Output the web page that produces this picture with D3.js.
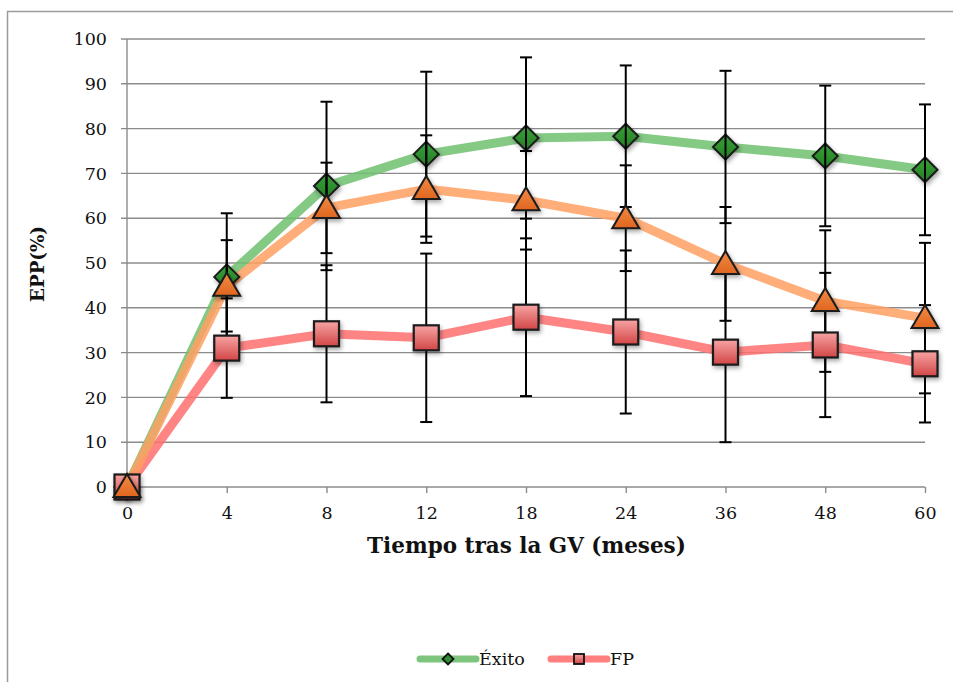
<!DOCTYPE html>
<html>
<head>
<meta charset="utf-8">
<script src="https://cdn.jsdelivr.net/npm/d3@7"></script>
<style>
  html, body { margin: 0; padding: 0; background: #fff; }
  svg { display: block; }
</style>
</head>
<body>
<svg id="chart" width="953" height="682"></svg>
<script>
// ---- data ----
const categories = ["0", "4", "8", "12", "18", "24", "36", "48", "60"];
const yTicks = [0, 10, 20, 30, 40, 50, 60, 70, 80, 90, 100];

const exito    = [0, 46.9, 67.2, 74.3, 77.9, 78.3, 75.9, 73.9, 70.8];
const exitoErr = [0, 14.2, 18.8, 18.4, 18.0, 15.8, 17.0, 15.7, 14.6];

const tercera    = [0, 44.9, 62.3, 66.5, 64.0, 60.0, 49.8, 41.5, 37.7];
const terceraErr = [0, 10.2, 10.1, 12.0, 11.0, 11.8, 12.7, 15.8, 16.8];

const fp    = [0, 31.0, 34.2, 33.3, 37.9, 34.6, 30.1, 31.7, 27.5];
const fpErr = [0, 11.1, 15.3, 18.8, 17.6, 18.2, 20.1, 16.1, 13.1];

const legendNames = ["Éxito", "FP"];
const xTitle = "Tiempo tras la GV (meses)";
const yTitle = "EPP(%)";

// ---- setup ----
const svg = d3.select("#chart");
const W = 953, H = 682;
const plot = { left: 127, right: 925, top: 39, bottom: 487 };

const x = d3.scalePoint().domain(categories).range([plot.left, plot.right]);
const y = d3.scaleLinear().domain([0, 100]).range([plot.bottom, plot.top]);

const defs = svg.append("defs");
const shadow = defs.append("filter").attr("id", "shadow")
  .attr("x", "-50%").attr("y", "-50%").attr("width", "200%").attr("height", "200%");
shadow.append("feDropShadow").attr("dx", 1.5).attr("dy", 2.5).attr("stdDeviation", 2)
  .attr("flood-color", "#000").attr("flood-opacity", 0.35);

const gSq = defs.append("linearGradient").attr("id", "gradSq").attr("x1", 0).attr("y1", 0).attr("x2", 0).attr("y2", 1);
gSq.append("stop").attr("offset", "0%").attr("stop-color", "#f7a4a4");
gSq.append("stop").attr("offset", "100%").attr("stop-color", "#d24646");
const gTri = defs.append("linearGradient").attr("id", "gradTri").attr("x1", 0).attr("y1", 0).attr("x2", 0).attr("y2", 1);
gTri.append("stop").attr("offset", "0%").attr("stop-color", "#f08a45");
gTri.append("stop").attr("offset", "100%").attr("stop-color", "#e0661f");
const gDia = defs.append("linearGradient").attr("id", "gradDia").attr("x1", 0).attr("y1", 0).attr("x2", 0).attr("y2", 1);
gDia.append("stop").attr("offset", "0%").attr("stop-color", "#38a038");
gDia.append("stop").attr("offset", "100%").attr("stop-color", "#257f25");

// outer chart border (only left/top visible)
svg.append("path")
  .attr("d", `M7.5,${H + 5} L7.5,11.5 L${W + 5},11.5`)
  .attr("fill", "none").attr("stroke", "#9a9a9a").attr("stroke-width", 1.5);

// gridlines
const grid = svg.append("g");
grid.selectAll("line").data(yTicks).join("line")
  .attr("x1", plot.left - 6).attr("x2", plot.right)
  .attr("y1", d => y(d)).attr("y2", d => y(d))
  .attr("stroke", "#8c8c8c").attr("stroke-width", 1.4);

// y axis line
svg.append("line")
  .attr("x1", plot.left).attr("x2", plot.left)
  .attr("y1", plot.top).attr("y2", plot.bottom)
  .attr("stroke", "#8c8c8c").attr("stroke-width", 1.4);

// y tick labels
const yAxis = d3.axisLeft(y).tickValues(yTicks).tickSize(0).tickPadding(20);
const gy = svg.append("g").attr("transform", `translate(${plot.left},0)`).call(yAxis);
gy.select(".domain").remove();
gy.selectAll("text").attr("font-family", "DejaVu Serif").attr("font-size", 17.5).attr("fill", "#111");

// x axis
const xAxis = d3.axisBottom(x).tickSize(6).tickPadding(14);
const gx = svg.append("g").attr("transform", `translate(0,${plot.bottom})`).call(xAxis);
gx.select(".domain").remove();
gx.selectAll(".tick line").attr("stroke", "#8c8c8c").attr("stroke-width", 1.4);
gx.selectAll("text").attr("font-family", "DejaVu Serif").attr("font-size", 17.5).attr("fill", "#111");

// titles, fitted to reference widths
function fitText(sel, target) {
  const len = sel.node().getComputedTextLength();
  const fs = parseFloat(sel.attr("font-size"));
  sel.attr("font-size", fs * target / len);
}
const xt = svg.append("text").text(xTitle)
  .attr("x", 526.5).attr("y", 553).attr("text-anchor", "middle")
  .attr("font-family", "DejaVu Serif").attr("font-weight", "bold").attr("font-size", 20).attr("fill", "#111");
fitText(xt, 319);
const yt = svg.append("text").text(yTitle)
  .attr("transform", "translate(44,264) rotate(-90)").attr("text-anchor", "middle")
  .attr("font-family", "DejaVu Serif").attr("font-weight", "bold").attr("font-size", 17).attr("fill", "#111");
fitText(yt, 76);

// ---- series ----
const series = [
  { name: "Éxito", vals: exito, err: exitoErr, line: "#6fbf6f", marker: "diamond" },
  { name: "FP", vals: fp, err: fpErr, line: "#ff7070", marker: "square" },
  { name: "", vals: tercera, err: terceraErr, line: "#ffa063", marker: "triangle" }
];

const lineGen = d3.line().x((d, i) => x(categories[i])).y(d => y(d));

// lines
series.forEach(s => {
  svg.append("path").datum(s.vals)
    .attr("d", lineGen)
    .attr("fill", "none").attr("stroke", s.line).attr("stroke-opacity", 0.85)
    .attr("stroke-width", 9).attr("stroke-linejoin", "round").attr("stroke-linecap", "butt");
});

function drawMarker(g, type, cx, cy) {
  if (type === "diamond") {
    const r = 12.5;
    g.append("path").attr("d", `M${cx},${cy - r} L${cx + r},${cy} L${cx},${cy + r} L${cx - r},${cy} Z`)
      .attr("fill", "url(#gradDia)").attr("stroke", "#1a1a1a").attr("stroke-width", 2)
      .attr("filter", "url(#shadow)");
  } else if (type === "square") {
    const h = 12.5;
    g.append("rect").attr("x", cx - h).attr("y", cy - h).attr("width", 2 * h).attr("height", 2 * h)
      .attr("fill", "url(#gradSq)").attr("stroke", "#1a1a1a").attr("stroke-width", 2.2)
      .attr("filter", "url(#shadow)");
  } else {
    const hw = 13.5, top = 13, bot = 10;
    g.append("path").attr("d", `M${cx},${cy - top} L${cx + hw},${cy + bot} L${cx - hw},${cy + bot} Z`)
      .attr("fill", "url(#gradTri)").attr("stroke", "#1a1a1a").attr("stroke-width", 2)
      .attr("stroke-linejoin", "miter").attr("filter", "url(#shadow)");
  }
}

function drawErrors(s) {
  const g = svg.append("g").attr("stroke", "#000").attr("stroke-width", 2);
  s.vals.forEach((v, i) => {
    const e = s.err[i];
    if (!e) return;
    const cx = x(categories[i]);
    g.append("line").attr("x1", cx).attr("x2", cx).attr("y1", y(v + e)).attr("y2", y(v - e));
    [v + e, v - e].forEach(t => {
      g.append("line").attr("x1", cx - 6).attr("x2", cx + 6).attr("y1", y(t)).attr("y2", y(t));
    });
  });
}

// green markers
const gm = svg.append("g");
exito.forEach((v, i) => drawMarker(gm, "diamond", x(categories[i]), y(v)));
// error bars
drawErrors(series[0]);
drawErrors(series[2]);
drawErrors(series[1]);
// red squares, then orange triangles
const rm = svg.append("g");
fp.forEach((v, i) => drawMarker(rm, "square", x(categories[i]), y(v)));
const om = svg.append("g");
tercera.forEach((v, i) => drawMarker(om, "triangle", x(categories[i]), y(v)));

// ---- legend ----
const legend = svg.append("g");
const legendItems = [
  { name: legendNames[0], color: "#6fbf6f", marker: "diamond", x0: 420 },
  { name: legendNames[1], color: "#ff7070", marker: "square", x0: 551 }
];
legendItems.forEach(it => {
  const ly = 659;
  legend.append("line").attr("x1", it.x0).attr("x2", it.x0 + 56).attr("y1", ly).attr("y2", ly)
    .attr("stroke", it.color).attr("stroke-opacity", 0.9).attr("stroke-width", 7).attr("stroke-linecap", "round");
  const cx = it.x0 + 28;
  if (it.marker === "diamond") {
    const r = 5.5;
    legend.append("path").attr("d", `M${cx},${ly - r} L${cx + r},${ly} L${cx},${ly + r} L${cx - r},${ly} Z`)
      .attr("fill", "#2e8f2e").attr("stroke", "#111").attr("stroke-width", 1.8);
  } else {
    const h = 5;
    legend.append("rect").attr("x", cx - h).attr("y", ly - h).attr("width", 2 * h).attr("height", 2 * h)
      .attr("fill", "url(#gradSq)").attr("stroke", "#111").attr("stroke-width", 1.8);
  }
  legend.append("text").text(it.name)
    .attr("x", it.x0 + 59).attr("y", ly + 6)
    .attr("font-family", "DejaVu Serif").attr("font-size", 17.5).attr("fill", "#111");
});
</script>
</body>
</html>
